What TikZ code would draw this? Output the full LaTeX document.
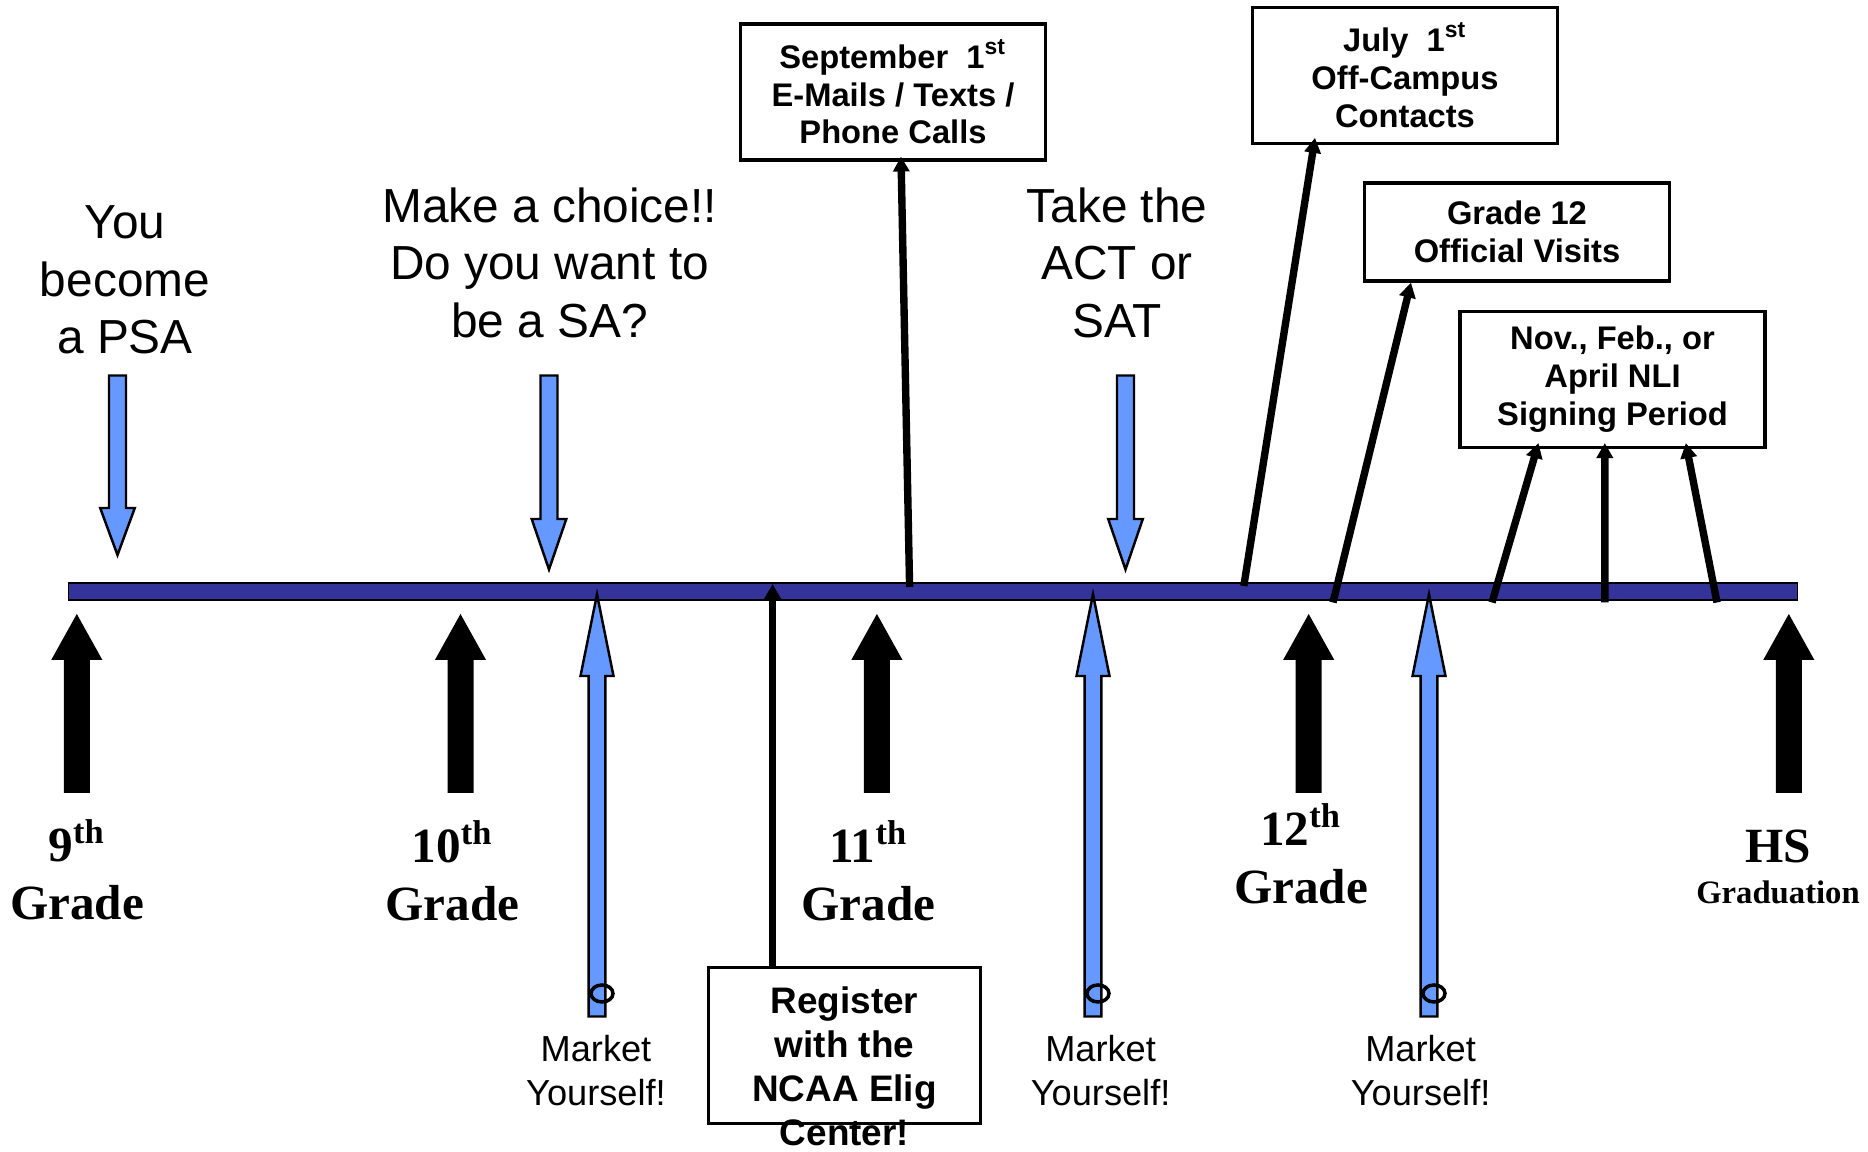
\documentclass[tikz,border=0pt]{standalone}
\usepackage{fontspec}
\setsansfont{Liberation Sans}
\newfontfamily\gradefont{Liberation Serif}
\usetikzlibrary{arrows.meta,positioning}
\definecolor{barblue}{HTML}{333399}
\definecolor{mktblue}{HTML}{6699FF}

\tikzset{
  bigtext/.style={font=\sffamily\fontsize{13.6}{16.3}\selectfont, align=center, inner sep=0pt},
  datebox/.style={draw, line width=0.9pt, font=\sffamily\bfseries\fontsize{9.3}{10.8}\selectfont,
    align=center, inner sep=0pt, minimum width=30.5mm, minimum height=13.6mm},
  gradetext/.style={font=\gradefont\bfseries\fontsize{14}{16}\selectfont, inner sep=0pt, anchor=base},
  mkttext/.style={font=\sffamily\fontsize{10.3}{12.4}\selectfont, align=center, inner sep=0pt},
  pointer/.style={line width=2.1pt, -{Triangle[length=1.5mm,width=1.6mm]}},
  blueblock/.style={fill=mktblue, draw=black, line width=0.7pt},
}

\begin{document}
\begin{tikzpicture}[x=0.1mm, y=-0.1mm]
\useasboundingbox (0,0) rectangle (1868,1152);

% time line
\node[draw, line width=0.5pt, fill=barblue, minimum width=172.9mm, minimum height=1.76mm, inner sep=0pt] (bar) at (933,591.5) {};

% what happens above the line
\node[bigtext] (psa) at (125,280) {You\\become\\a PSA};
\node[bigtext] (choice) at (549.6,262.7) {Make a choice!!\\Do you want to\\be a SA?};
\node[bigtext] (test) at (1117,262.7) {Take the\\ACT or\\SAT};

\foreach \x/\hb/\tip in {117.5/508/555, 549/519/569.5, 1125.5/519/569.5}
  \filldraw[blueblock] ({\x-8.5},375.5) -- ({\x+8.5},375.5) -- ({\x+8.5},\hb) -- ({\x+17.3},\hb)
    -- (\x,\tip) -- ({\x-17.3},\hb) -- ({\x-8.5},\hb) -- cycle;

% grades
\foreach \x in {76.8,460.5,876.9,1308.7,1788.8}
  \fill ({\x-13},793) -- ({\x-13},660) -- ({\x-25.6},660) -- (\x,614) -- ({\x+25.6},660)
    -- ({\x+13},660) -- ({\x+13},793) -- cycle;

\foreach \x/\num/\y in {77/9/862, 452.5/10/862.6, 868.5/11/862.6, 1301/12/846} {
  \node[gradetext] (grade\num) at (\x,\y) {\num\textsuperscript{th}};
  \node[gradetext] (gname\num) at (\x,{\y+58}) {Grade};
}
\node[gradetext] (hs) at (1778,862.6) {HS};
\node[gradetext, font=\gradefont\bfseries\fontsize{9.3}{11}\selectfont] (grad) at (1778,904) {Graduation};

% market yourself
\foreach \x/\tx/\n in {597/596/1, 1093/1100.6/2, 1429/1420.6/3} {
  \filldraw[blueblock] ({\x-8.3},1016.5) -- ({\x-8.3},676) -- ({\x-16.5},676) -- (\x,594.4)
    -- ({\x+16.5},676) -- ({\x+8.3},676) -- ({\x+8.3},1016.5) -- cycle;
  \draw[line width=1pt] ({\x+5},993.5) ellipse [x radius=11, y radius=8.5];
  \node[mkttext] (mkt\n) at (\tx,1070.5) {Market\\Yourself!};
}

% dates
\node[datebox] (sept) at (893,92) {September~~1\textsuperscript{st}\\E-Mails / Texts /\\Phone Calls};
\node[datebox] (july) at (1405,75.3) {July~~1\textsuperscript{st}\\Off-Campus\\Contacts};
\node[datebox, minimum height=9.8mm] (visits) at (1517,232) {Grade 12\\Official Visits};
\node[datebox] (nli) at (1612.5,379.5) {Nov., Feb., or\\April NLI\\Signing Period};
\node[datebox, minimum width=27.2mm, minimum height=15.6mm] (reg) at (844.7,1045.5) {};
\node[font=\sffamily\bfseries\fontsize{10.5}{12.5}\selectfont, align=center, inner sep=0pt] (regtext) at (844.5,1066)
  {Register\\with the\\NCAA Elig\\Center!};

\coordinate (tReg) at (772.6,584);
\coordinate (tSept) at (909.6,587);
\coordinate (tJuly) at (1243.8,586);
\coordinate (tVisit) at (1333,602.5);
\coordinate (tNov) at (1492,602.5);
\coordinate (tFeb) at (1604.8,602.5);
\coordinate (tApr) at (1717,602.5);

\draw[pointer] (reg.north -| tReg) -- (tReg);
\draw[pointer] (tSept) -- ([xshift=0.8mm,yshift=0.5mm]sept.south);
\draw[pointer] (tJuly) -- ([xshift=-9mm,yshift=0.7mm]july.south);
\draw[pointer] (tVisit) -- ([xshift=-10.6mm]visits.south);
\draw[pointer] (tNov) -- ([xshift=-7.4mm,yshift=0.6mm]nli.south);
\draw[pointer] (tFeb) -- ([xshift=-0.77mm,yshift=0.6mm]nli.south);
\draw[pointer] (tApr) -- ([xshift=7.33mm,yshift=0.6mm]nli.south);

\end{tikzpicture}
\end{document}
